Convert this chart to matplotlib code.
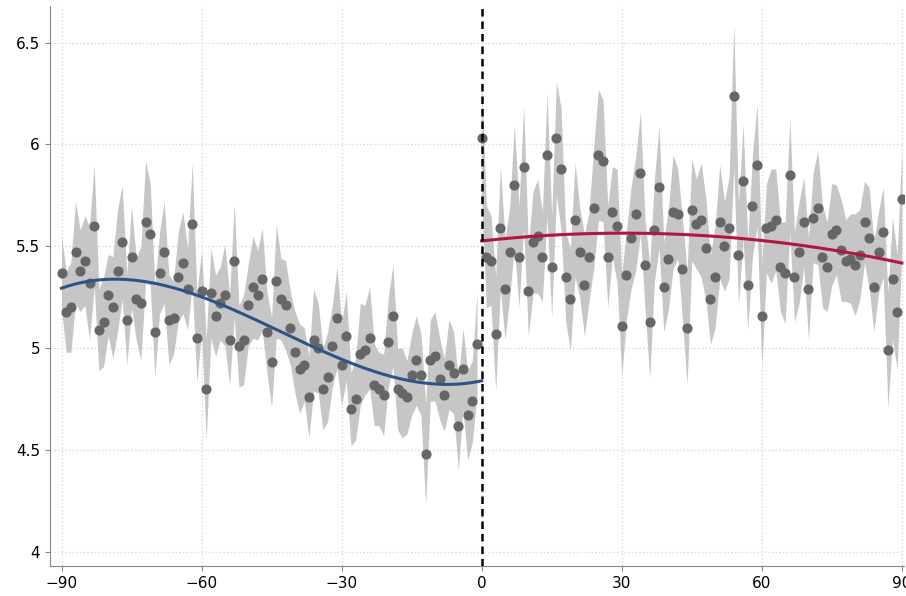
import numpy as np
import matplotlib.pyplot as plt

days_pre = np.arange(-90, 0)
days_post = np.arange(0, 91)

vals_pre = [5.37, 5.18, 5.20, 5.47, 5.38, 5.43, 5.32, 5.60, 5.09, 5.13,
            5.26, 5.20, 5.38, 5.52, 5.14, 5.45, 5.24, 5.22, 5.62, 5.56,
            5.08, 5.37, 5.47, 5.14, 5.15, 5.35, 5.42, 5.29, 5.61, 5.05,
            5.28, 4.80, 5.27, 5.16, 5.22, 5.26, 5.04, 5.43, 5.01, 5.04,
            5.21, 5.30, 5.26, 5.34, 5.08, 4.93, 5.33, 5.24, 5.21, 5.10,
            4.98, 4.90, 4.92, 4.76, 5.04, 5.00, 4.80, 4.86, 5.01, 5.15,
            4.92, 5.06, 4.70, 4.75, 4.97, 4.99, 5.05, 4.82, 4.80, 4.77,
            5.03, 5.16, 4.80, 4.78, 4.76, 4.87, 4.94, 4.87, 4.48, 4.94,
            4.96, 4.85, 4.77, 4.92, 4.88, 4.62, 4.90, 4.67, 4.74, 5.02]
vals_post = [6.03, 5.45, 5.43, 5.07, 5.59, 5.29, 5.47, 5.80, 5.45, 5.89,
             5.28, 5.52, 5.55, 5.45, 5.95, 5.40, 6.03, 5.88, 5.35, 5.24,
             5.63, 5.47, 5.31, 5.45, 5.69, 5.95, 5.92, 5.45, 5.67, 5.60,
             5.11, 5.36, 5.54, 5.66, 5.86, 5.41, 5.13, 5.58, 5.79, 5.30,
             5.44, 5.67, 5.66, 5.39, 5.10, 5.68, 5.61, 5.63, 5.49, 5.24,
             5.35, 5.62, 5.50, 5.59, 6.24, 5.46, 5.82, 5.31, 5.70, 5.90,
             5.16, 5.59, 5.60, 5.63, 5.40, 5.37, 5.85, 5.35, 5.47, 5.62,
             5.29, 5.64, 5.69, 5.45, 5.40, 5.56, 5.58, 5.48, 5.43, 5.44,
             5.41, 5.46, 5.62, 5.54, 5.30, 5.47, 5.57, 4.99, 5.34, 5.18,
             5.73]

# half-width of the confidence band at each day
ci_pre = [0.18, 0.2, 0.22, 0.25, 0.2, 0.22, 0.28, 0.3, 0.2, 0.22,
          0.2, 0.25, 0.3, 0.28, 0.22, 0.25, 0.2, 0.28, 0.3, 0.25,
          0.22, 0.2, 0.25, 0.22, 0.18, 0.22, 0.25, 0.2, 0.3, 0.22,
          0.2, 0.25, 0.22, 0.2, 0.18, 0.25, 0.22, 0.28, 0.2, 0.22,
          0.2, 0.25, 0.22, 0.25, 0.2, 0.22, 0.28, 0.2, 0.22, 0.18,
          0.2, 0.22, 0.18, 0.2, 0.25, 0.22, 0.2, 0.22, 0.2, 0.25,
          0.2, 0.22, 0.18, 0.2, 0.25, 0.22, 0.25, 0.2, 0.18, 0.2,
          0.22, 0.25, 0.2, 0.22, 0.18, 0.2, 0.22, 0.2, 0.25, 0.2,
          0.22, 0.2, 0.18, 0.22, 0.2, 0.22, 0.2, 0.22, 0.2, 0.25]
ci_post = [0.28, 0.25, 0.22, 0.28, 0.3, 0.25, 0.22, 0.3, 0.25, 0.3,
           0.22, 0.25, 0.28, 0.22, 0.3, 0.25, 0.28, 0.3, 0.22, 0.25,
           0.28, 0.22, 0.25, 0.22, 0.3, 0.32, 0.3, 0.25, 0.22, 0.28,
           0.25, 0.22, 0.25, 0.28, 0.3, 0.22, 0.28, 0.25, 0.3, 0.22,
           0.25, 0.28, 0.22, 0.25, 0.28, 0.25, 0.22, 0.28, 0.25, 0.22,
           0.25, 0.28, 0.22, 0.25, 0.35, 0.25, 0.28, 0.22, 0.25, 0.3,
           0.25, 0.22, 0.28, 0.25, 0.22, 0.25, 0.28, 0.22, 0.25, 0.22,
           0.25, 0.22, 0.28, 0.25, 0.22, 0.25, 0.22, 0.25, 0.2, 0.22,
           0.25, 0.22, 0.2, 0.25, 0.22, 0.2, 0.22, 0.28, 0.3, 0.28,
           0.25]

vals_pre = np.array(vals_pre)
vals_post = np.array(vals_post)
ci_pre = np.array(ci_pre)
ci_post = np.array(ci_post)

fig = plt.figure(figsize=(9.06, 5.96), dpi=100)
ax = fig.add_axes([0.055, 0.05, 0.943, 0.94])

for d, v, c in [(days_pre, vals_pre, ci_pre), (days_post, vals_post, ci_post)]:
    ax.fill_between(d, v - c, v + c, color='#bcbcbc', alpha=0.85, lw=0, zorder=1)
    ax.plot(d, v, 'o', color='#666666', ms=6.3, zorder=3)

# polynomial fits on each side
xs = np.linspace(-90, 0, 200)
fit_pre = np.polyval(np.polyfit(days_pre, vals_pre, 3), xs)
ax.plot(xs, fit_pre, color='#2e5486', lw=2.2, zorder=4)
xs2 = np.linspace(0, 90, 200)
fit_post = np.polyval(np.polyfit(days_post, vals_post, 2), xs2)
ax.plot(xs2, fit_post, color='#b0173f', lw=2.2, zorder=4)

ax.axvline(0, color='black', ls=(0, (3, 2)), lw=1.8, zorder=5)

ax.set_xlim(-92.5, 90.5)
ax.set_ylim(3.93, 6.68)
ax.set_xticks([-90, -60, -30, 0, 30, 60, 90])
ax.set_yticks([4, 4.5, 5, 5.5, 6, 6.5])
ax.set_yticklabels(['4', '4.5', '5', '5.5', '6', '6.5'])
ax.grid(True, color='#d8d8d8', ls=':', lw=1)
ax.set_axisbelow(True)
for s in ['top', 'right']:
    ax.spines[s].set_visible(False)
ax.spines['left'].set_color('#888888')
ax.spines['bottom'].set_color('#888888')
ax.tick_params(labelsize=11, color='#888888')

fig.savefig('out.png', dpi=100)
